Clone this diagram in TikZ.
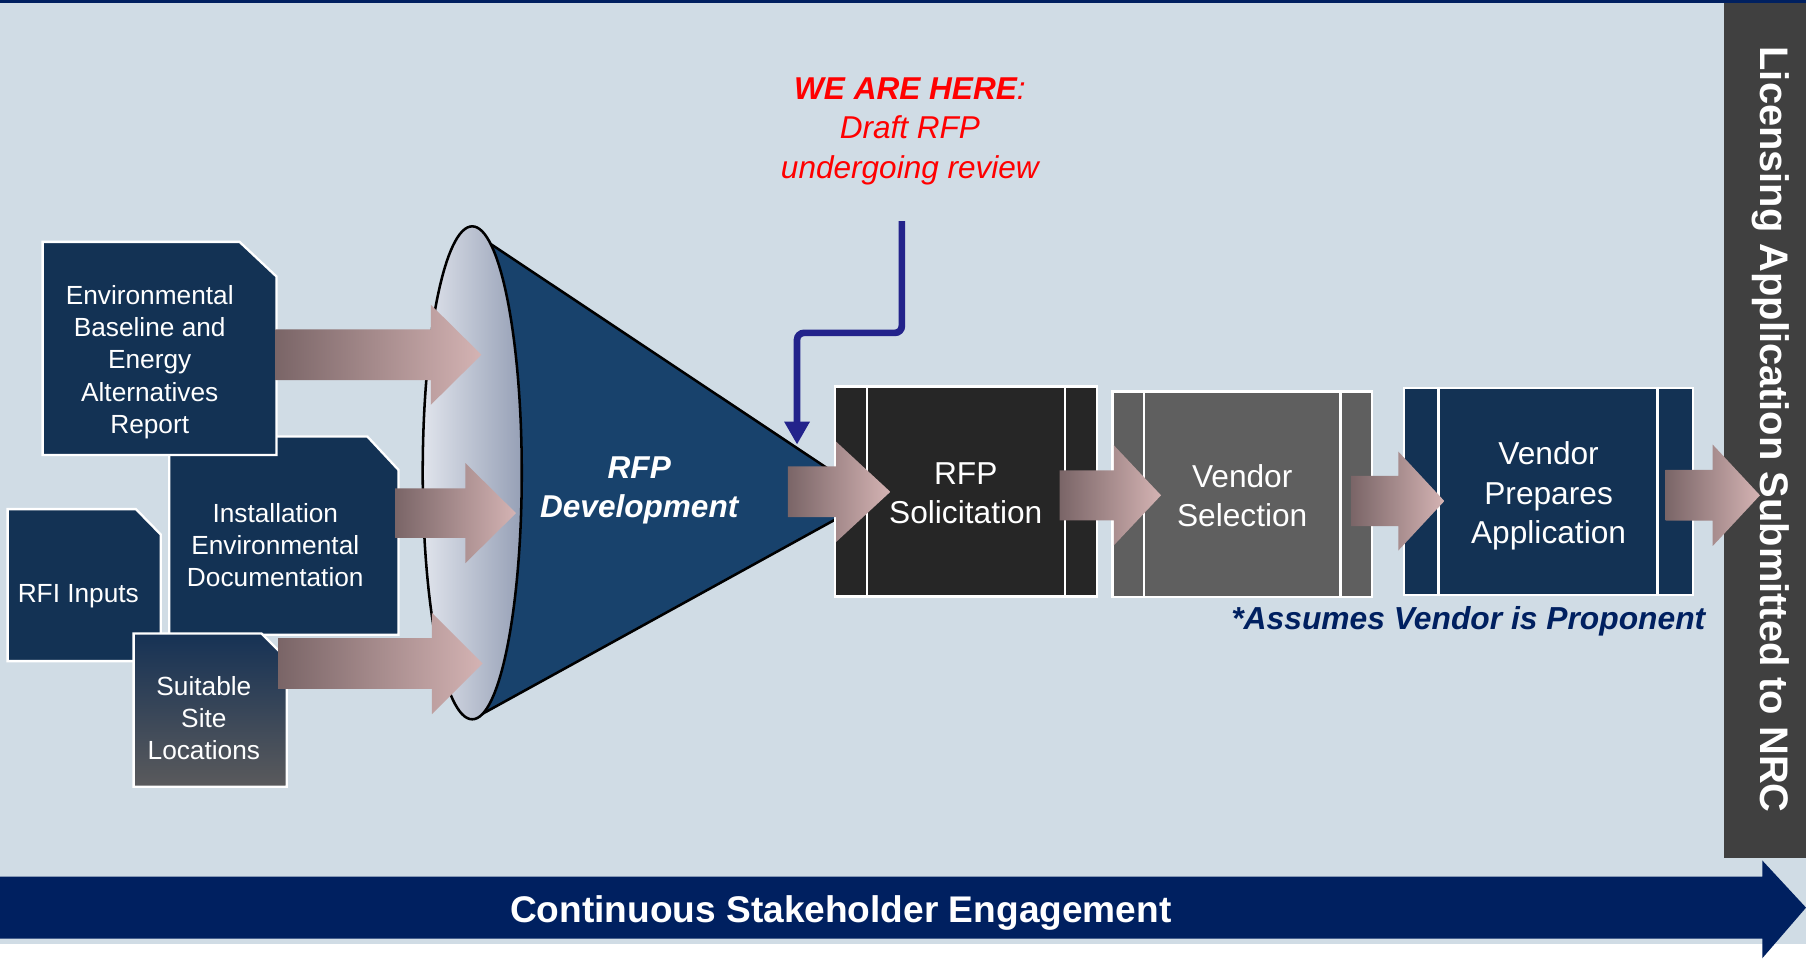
\documentclass[tikz,border=0pt]{standalone}
\usepackage{fontspec}
\setmainfont{Liberation Sans}
\usetikzlibrary{arrows.meta}
\definecolor{bgc}{RGB}{208,220,229}
\definecolor{navyc}{RGB}{0,32,96}
\definecolor{boxc}{RGB}{19,50,84}
\definecolor{conec}{RGB}{24,66,108}
\definecolor{licc}{RGB}{64,64,64}
\definecolor{solc}{RGB}{38,38,38}
\definecolor{selc}{RGB}{95,95,95}
\definecolor{bluec}{RGB}{35,35,139}
\definecolor{pinkL}{RGB}{122,101,103}
\definecolor{pinkR}{RGB}{212,179,179}
\definecolor{ellL}{RGB}{224,228,236}
\definecolor{ellR}{RGB}{150,160,182}
\definecolor{siteT}{RGB}{22,50,85}
\definecolor{siteB}{RGB}{90,90,92}
\definecolor{redc}{RGB}{255,0,0}
\tikzset{
  leftbox/.style={fill=boxc,draw=white,line width=1pt},
  boxtxt/.style={text=white,align=center,inner sep=0pt,yshift=-1.2pt,font=\fontsize{11.4}{14}\selectfont},
  procbox/.style={draw=white,line width=1pt,inner sep=0pt,text=white,align=center,font=\fontsize{13.75}{17}\selectfont},
  proctxt/.style={text=white,align=center,inner sep=0pt,font=\fontsize{13.75}{17}\selectfont},
  bandline/.style={draw=white,line width=1pt},
  bluearr/.style={draw=bluec,line width=2.9pt,rounded corners=3pt,-{Triangle[width=10.5pt,length=10pt]}},
}
\newcommand\pinkarrow[6]{%
  \shade[left color=pinkL,right color=pinkR] (#1,#4-#5) -- (#2,#4-#5) -- (#2,#4-#6) -- (#3,#4) -- (#2,#4+#6) -- (#2,#4+#5) -- (#1,#4+#5) -- cycle;}
\newcommand\snippath[6]{(#1,#2) -- (#3-#5,#2) -- (#3,#2+#6) -- (#3,#4) -- (#1,#4) -- cycle}
\begin{document}
\begin{tikzpicture}[x=0.5pt,y=-0.5pt]
\useasboundingbox (0,0) rectangle (1568,832);
% background
\fill[bgc] (0,0) rectangle (1568,832);
\fill[navyc] (0,0) rectangle (1568,3);
% bottom banner
\fill[white] (0,820) rectangle (1568,832);
\fill[navyc] (0,761) -- (1530,761) -- (1530,747) -- (1568,788) -- (1530,832) -- (1530,815) -- (0,815) -- cycle;
\node[text=white,font=\fontsize{16.1}{19}\selectfont\bfseries] (stake) at (730,792.5) {Continuous Stakeholder Engagement};
% licensing box
\fill[licc] (1497,3) rectangle (1568,745);
\node[text=white,rotate=-90,font=\fontsize{17.3}{20}\selectfont\bfseries] (lic) at (1537,373) {Licensing Application Submitted to NRC};
% left boxes
\filldraw[leftbox] \snippath{147}{379}{346}{551}{27}{29};
\node[boxtxt] (inst) at (239,471) {Installation\\Environmental\\Documentation};
\filldraw[leftbox] \snippath{37}{210}{240}{395}{32}{30};
\node[boxtxt] (env) at (130,312) {Environmental\\Baseline and\\Energy\\Alternatives\\Report};
\filldraw[leftbox] \snippath{6.6}{442}{139.5}{574}{21.5}{22};
\node[boxtxt] (rfi) at (68,515) {RFI Inputs};
\shadedraw[top color=siteT,bottom color=siteB,draw=white,line width=1pt] \snippath{116}{550}{249}{683}{22}{22};
\node[boxtxt] (site) at (177,621) {Suitable\\Site\\Locations};
% cone
\fill[conec] (410,197) -- (424,210.5) -- (758,433) -- (416.6,621) -- (410,624) -- cycle;
\draw[black,line width=1.1pt] (424,210.5) -- (758,433) -- (416.6,621);
\shade[left color=ellL,right color=ellR] (410,410.5) ellipse [x radius=43, y radius=214];
\draw[black,line width=1.1pt] (410,410.5) ellipse [x radius=43, y radius=214];
% process boxes
\node[procbox,fill=solc,minimum width=113.75pt,minimum height=91.2pt] (sol) at (838.75,426.8) {};
\node[proctxt] (soltxt) at (838.5,428.5) {RFP\\Solicitation};
\draw[bandline] ([xshift=14.3pt]sol.north west) -- ([xshift=14.3pt]sol.south west);
\draw[bandline] ([xshift=-14.5pt]sol.north east) -- ([xshift=-14.5pt]sol.south east);
\node[procbox,fill=selc,minimum width=112.5pt,minimum height=89.25pt] (sel) at (1078.5,429.25) {};
\node[proctxt] (seltxt) at (1078.5,430) {Vendor\\Selection};
\draw[bandline] ([xshift=14.2pt]sel.north west) -- ([xshift=14.2pt]sel.south west);
\draw[bandline] ([xshift=-14.1pt]sel.north east) -- ([xshift=-14.1pt]sel.south east);
\node[procbox,fill=boxc,minimum width=125.5pt,minimum height=89.75pt] (prep) at (1344.5,426.75) {};
\node[proctxt] (preptxt) at (1344.5,430.5) {Vendor\\Prepares\\Application};
\draw[bandline] ([xshift=15.5pt]prep.north west) -- ([xshift=15.5pt]prep.south west);
\draw[bandline] ([xshift=-16pt]prep.north east) -- ([xshift=-16pt]prep.south east);
% pink arrows
\pinkarrow{239}{374}{418}{308}{22}{43.5}
\pinkarrow{343}{404}{448}{445.5}{21.5}{43.5}
\pinkarrow{242}{375}{419}{576}{22}{44}
\pinkarrow{684}{726}{773}{427}{22}{43.5}
\pinkarrow{920}{967}{1008}{430}{21.7}{43.5}
\pinkarrow{1173}{1214}{1254}{435}{21.8}{43}
\pinkarrow{1446}{1487}{1528}{430}{22}{44}
% texts
\node[text=white,align=center,font=\fontsize{13.7}{17}\selectfont\bfseries\itshape] (dev) at (555,426) {RFP\\Development};
\node[text=redc,align=center,font=\fontsize{13.7}{17}\selectfont\itshape] (here) at (790,114) {{\bfseries WE ARE HERE}:\\Draft RFP\\undergoing review};
\node[text=navyc,anchor=east,inner sep=0pt,font=\fontsize{13.8}{17}\selectfont\bfseries\itshape] (note) at (1481,539.5) {*Assumes Vendor is Proponent};
% blue arrow
\coordinate (herept) at (783,192);
\coordinate (tippt) at (692,386);
\draw[bluearr] (herept) -- ++(0,97) -| (tippt);
\end{tikzpicture}
\end{document}
